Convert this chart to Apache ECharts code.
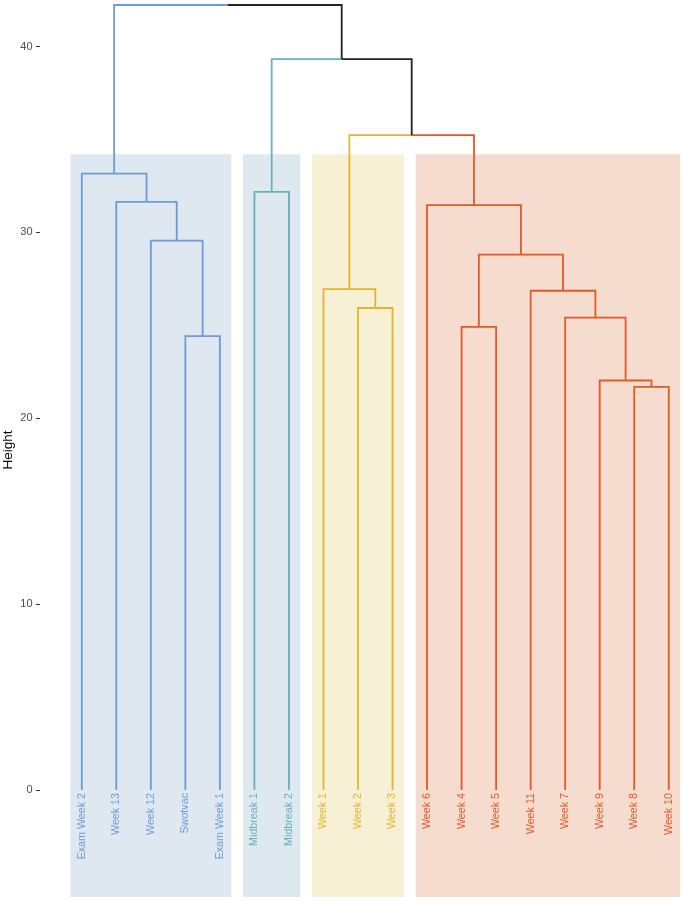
<!DOCTYPE html>
<html><head><meta charset="utf-8">
<script src="https://cdn.jsdelivr.net/npm/echarts@6/dist/echarts.min.js"></script>
<style>html,body{margin:0;padding:0;background:#fff}#c{width:685px;height:901px}</style>
</head><body><div id="c"></div>
<script>
// ---- data ----
const leaves = ['Exam Week 2','Week 13','Week 12','Swotvac','Exam Week 1','Midbreak 1','Midbreak 2','Week 1','Week 2','Week 3','Week 6','Week 4','Week 5','Week 11','Week 7','Week 9','Week 8','Week 10'];
const leafCluster = [0,0,0,0,0,1,1,2,2,2,3,3,3,3,3,3,3,3];
// hclust-style merges: negative = leaf (1-based), positive = earlier merge (1-based)
const mergeA = [-4,-17,-16,-12,-15,-9,-14,-8,4,-3,-11,-2,-6,-1,8,13,14];
const mergeB = [-5,-18,2,-13,3,-10,5,6,7,1,9,10,-7,12,11,15,16];
const mergeHeight = [24.42,21.69,22.03,24.92,25.41,25.93,26.86,26.95,28.80,29.56,31.47,31.64,32.18,33.16,35.23,39.32,42.23];
const clusterColors = ['#6b9cd5','#6aafbe','#e1b62e','#e05a27'];
const rectColors = ['#dfe7f0','#dde9ee','#f7f0d4','#f6dbcf'];
const rectTop = 34.2, rectBottom = -5.75;
const yTicks = [0,10,20,30,40];

// ---- build geometry from data ----
const leafX = leaves.map((_, i) => i + 1);
const nodes = [];
function getNode(ref){
  if (ref < 0) { const i = -ref - 1; return {x: leafX[i], h: 0, cl: leafCluster[i]}; }
  return nodes[ref - 1];
}
const segments = [];
for (let k = 0; k < mergeHeight.length; k++) {
  const a = getNode(mergeA[k]), b = getNode(mergeB[k]);
  const x = (a.x + b.x) / 2, h = mergeHeight[k];
  const cl = (a.cl === b.cl && a.cl >= 0) ? a.cl : -1;
  [a, b].forEach(c => segments.push([x, h, c.x, c.h, c.cl]));
  nodes.push({x, h, cl});
}
const clusterRects = [];
for (let c = 0; c < clusterColors.length; c++) {
  const idx = leafX.filter((_, i) => leafCluster[i] === c);
  clusterRects.push([Math.min(...idx) - 0.33, Math.max(...idx) + 0.33, c]);
}
const labelData = leaves.map((n, i) => [leafX[i], 0, i]);

const FONT = '"Liberation Sans", Arial, Helvetica, sans-serif';
const chart = echarts.init(document.getElementById('c'));
chart.setOption({
  animation: false,
  grid: {left: 40, right: 0, top: 0, bottom: 0},
  xAxis: {type: 'value', min: -0.21, max: 18.47, show: false},
  yAxis: {type: 'value', min: -5.97, max: 42.5,
    axisLine: {show: false, onZero: false}, splitLine: {show: false},
    axisTick: {show: true, length: 4, customValues: yTicks, lineStyle: {color: '#333', width: 1}},
    axisLabel: {customValues: yTicks, fontSize: 11, color: '#4d4d4d', margin: 7.5, fontFamily: FONT}
  },
  graphic: [{type: 'text', x: 8, y: 450, rotation: Math.PI/2,
    style: {text: 'Height', fontSize: 13.5, fill: '#000', fontFamily: FONT, align: 'center', verticalAlign: 'middle'}}],
  series: [
    {type: 'custom', data: clusterRects, z: 1, clip: false,
      renderItem: (p, api) => {
        const p1 = api.coord([api.value(0), rectTop]);
        const p2 = api.coord([api.value(1), rectBottom]);
        return {type: 'rect', shape: {x: p1[0], y: p1[1], width: p2[0]-p1[0], height: p2[1]-p1[1]},
          style: {fill: rectColors[api.value(2)]}};
      }},
    {type: 'custom', data: segments, z: 3, clip: false,
      renderItem: (p, api) => {
        const a = api.coord([api.value(0), api.value(1)]);
        const b = api.coord([api.value(2), api.value(1)]);
        const c = api.coord([api.value(2), api.value(3)]);
        const ci = api.value(4);
        return {type: 'polyline', shape: {points: [a, b, c]},
          style: {stroke: ci >= 0 ? clusterColors[ci] : '#222', lineWidth: 1.8, fill: null}};
      }},
    {type: 'custom', data: labelData, z: 4, clip: false,
      renderItem: (p, api) => {
        const i = api.value(2);
        const pt = api.coord([api.value(0), api.value(1)]);
        return {type: 'text', x: pt[0], y: pt[1] + 3, rotation: Math.PI/2,
          style: {text: leaves[i], fontSize: 10.7, fontFamily: FONT, fill: clusterColors[leafCluster[i]],
            align: 'right', verticalAlign: 'middle'}};
      }}
  ]
});
</script></body></html>
